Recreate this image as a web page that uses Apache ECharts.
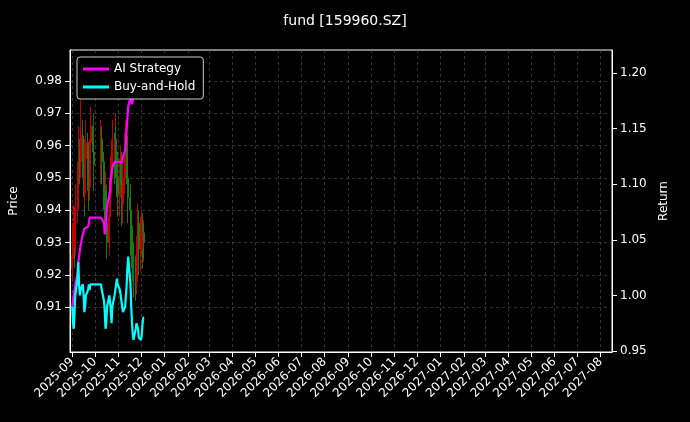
<!DOCTYPE html>
<html lang="en">
<head>
    <meta charset="UTF-8">
    <title>fund [159960.SZ]</title>
    <style>
        html, body { margin: 0; padding: 0; background: #000; }
        #chart { width: 690px; height: 422px; }
    </style>
</head>
<body>
    <div id="chart"></div>
    <script src="https://cdn.jsdelivr.net/npm/echarts@6/dist/echarts.min.js"></script>
    <script>
        // trading days
        let dates = [
            '2025-09-01','2025-09-02','2025-09-03','2025-09-04','2025-09-05',
            '2025-09-08','2025-09-09','2025-09-10','2025-09-11','2025-09-12',
            '2025-09-15','2025-09-16','2025-09-17','2025-09-18','2025-09-19',
            '2025-09-22','2025-09-23','2025-09-24','2025-09-25','2025-09-26',
            '2025-09-29','2025-09-30',
            '2025-10-09','2025-10-10',
            '2025-10-13','2025-10-14','2025-10-15','2025-10-16','2025-10-17',
            '2025-10-20','2025-10-21','2025-10-22','2025-10-23','2025-10-24',
            '2025-10-27','2025-10-28','2025-10-29','2025-10-30','2025-10-31',
            '2025-11-03','2025-11-04','2025-11-05','2025-11-06','2025-11-07',
            '2025-11-10','2025-11-11','2025-11-12','2025-11-13','2025-11-14',
            '2025-11-17','2025-11-18','2025-11-19','2025-11-20','2025-11-21',
            '2025-11-24','2025-11-25','2025-11-26','2025-11-27','2025-11-28',
            '2025-12-01','2025-12-02','2025-12-03','2025-12-04','2025-12-05'
        ];

        // [open, close, low, high]
        let candles = [
            [0.922,0.926,0.918,0.935],[0.926,0.931,0.920,0.936],[0.931,0.935,0.925,0.942],[0.935,0.928,0.922,0.938],[0.928,0.941,0.926,0.948],
            [0.941,0.946,0.936,0.955],[0.946,0.951,0.940,0.958],[0.951,0.959,0.945,0.966],[0.959,0.955,0.948,0.962],[0.955,0.963,0.950,0.975],
            [0.963,0.958,0.950,0.968],[0.958,0.950,0.944,0.962],[0.950,0.945,0.938,0.955],[0.945,0.956,0.942,0.962],[0.956,0.961,0.950,0.968],
            [0.961,0.952,0.946,0.964],[0.952,0.947,0.940,0.956],[0.947,0.955,0.943,0.962],[0.955,0.961,0.950,0.966],[0.961,0.966,0.954,0.972],
            [0.966,0.958,0.952,0.970],[0.958,0.954,0.946,0.963],
            [0.954,0.962,0.948,0.968],[0.962,0.955,0.948,0.966],
            [0.955,0.948,0.940,0.958],[0.948,0.940,0.934,0.952],[0.940,0.946,0.935,0.952],[0.946,0.936,0.930,0.948],[0.936,0.930,0.925,0.940],
            [0.930,0.938,0.926,0.944],[0.938,0.945,0.933,0.950],[0.945,0.951,0.940,0.957],[0.951,0.956,0.946,0.962],[0.956,0.960,0.950,0.968],
            [0.960,0.955,0.948,0.964],[0.955,0.962,0.950,0.970],[0.962,0.958,0.950,0.966],[0.958,0.950,0.944,0.962],[0.950,0.945,0.938,0.954],
            [0.945,0.950,0.938,0.956],[0.950,0.955,0.944,0.960],[0.955,0.948,0.940,0.958],[0.948,0.942,0.935,0.952],[0.942,0.950,0.936,0.956],
            [0.950,0.958,0.945,0.964],[0.958,0.963,0.950,0.968],[0.963,0.955,0.948,0.966],[0.955,0.950,0.942,0.958],[0.950,0.944,0.936,0.954],
            [0.944,0.940,0.932,0.948],[0.940,0.935,0.926,0.944],[0.935,0.930,0.922,0.940],[0.930,0.925,0.918,0.935],[0.925,0.920,0.913,0.930],
            [0.920,0.918,0.912,0.926],[0.918,0.926,0.914,0.932],[0.926,0.931,0.920,0.938],[0.931,0.936,0.924,0.942],[0.936,0.928,0.920,0.940],
            [0.928,0.933,0.921,0.938],[0.933,0.936,0.926,0.940],[0.936,0.928,0.922,0.939],[0.928,0.933,0.924,0.937],[0.933,0.930,0.925,0.936]
        ];

        let aiStrategy = [
            0.990,0.995,1.000,1.005,1.010, 1.020,1.030,1.035,1.040,1.045,
            1.055,1.055,1.060,1.060,1.060, 1.062,1.065,1.070,1.070,1.070,
            1.070,1.070,
            1.070,1.070, 1.065,1.055,1.060,1.070,1.080,
            1.090,1.095,1.105,1.110,1.115, 1.120,1.120,1.120,1.120,1.120,
            1.120,1.120,1.120,1.120,1.125, 1.130,1.140,1.150,1.160,1.170,
            1.178,1.175,1.172,1.175,1.180, 1.185,1.190,1.190,1.190,1.190,
            1.195,1.200,1.205,1.210,1.210
        ];

        let buyHold = [
            0.990,0.975,0.970,0.985,1.000, 1.015,1.030,1.010,1.000,1.005,
            1.010,1.000,0.985,0.990,1.000, 1.005,1.010,1.005,1.010,1.010,
            1.010,1.010,
            1.010,1.005, 0.995,0.985,0.970,0.975,0.990,
            1.000,0.995,0.985,0.975,0.990, 1.000,1.005,1.010,1.015,1.010,
            1.005,1.000,0.995,0.990,0.985, 0.990,1.000,1.010,1.025,1.035,
            1.010,0.990,0.975,0.965,0.960, 0.970,0.975,0.975,0.970,0.962,
            0.960,0.965,0.975,0.980,0.980
        ];

        let monthTicks = [
            '2025-09','2025-10','2025-11','2025-12','2026-01','2026-02','2026-03','2026-04',
            '2026-05','2026-06','2026-07','2026-08','2026-09','2026-10','2026-11','2026-12',
            '2027-01','2027-02','2027-03','2027-04','2027-05','2027-06','2027-07','2027-08'
        ];
        let priceTicks = [0.91, 0.92, 0.93, 0.94, 0.95, 0.96, 0.97, 0.98];
        let returnTicks = [0.95, 1.00, 1.05, 1.10, 1.15, 1.20];

        let ts = d => Date.UTC(+d.slice(0, 4), +d.slice(5, 7) - 1, d.length > 7 ? +d.slice(8, 10) : 1);
        let monthTimes = monthTicks.map(ts);
        let monthLabel = {};
        monthTicks.forEach((m, i) => { monthLabel[monthTimes[i]] = m; });

        let chart = echarts.init(document.getElementById('chart'));
        let gridLine = { show: true, lineStyle: { color: '#555', type: [3, 3], width: 0.6 } };
        let font = 'DejaVu Sans';

        chart.setOption({
            backgroundColor: '#000',
            animation: false,
            textStyle: { fontFamily: font },
            title: {
                text: 'fund [159960.SZ]', left: 'center', top: 9,
                textStyle: { color: '#fff', fontSize: 14, fontWeight: 'normal', fontFamily: font }
            },
            legend: {
                left: 77, top: 57, orient: 'vertical', itemGap: 6,
                itemWidth: 26, itemHeight: 3,
                backgroundColor: '#000', borderColor: '#ccc', borderWidth: 1, borderRadius: 3,
                padding: [6, 8, 6, 6],
                textStyle: { color: '#fff', fontSize: 12, fontFamily: font },
                data: [
                    { name: 'AI Strategy', icon: 'rect' },
                    { name: 'Buy-and-Hold', icon: 'rect' }
                ]
            },
            grid: { left: 70, right: 78, top: 50, bottom: 70, show: true, borderColor: '#fff', borderWidth: 1 },
            xAxis: {
                type: 'value',
                min: ts('2025-08-29'), max: ts('2027-08-16'),
                axisLine: { lineStyle: { color: '#fff' } },
                axisTick: { show: true, customValues: monthTimes, lineStyle: { color: '#fff' } },
                axisLabel: {
                    customValues: monthTimes, rotate: 45, color: '#fff', fontSize: 12, fontFamily: font,
                    formatter: v => monthLabel[v] || ''
                },
                splitLine: gridLine
            },
            yAxis: [{
                type: 'value', name: 'Price', nameLocation: 'middle', nameGap: 50,
                nameTextStyle: { color: '#fff', fontSize: 12 },
                min: 0.8961, max: 0.9896,
                axisLine: { show: true, lineStyle: { color: '#fff' } },
                axisTick: { show: true, customValues: priceTicks, lineStyle: { color: '#fff' } },
                axisLabel: { customValues: priceTicks, color: '#fff', fontSize: 12, formatter: v => v.toFixed(2) },
                splitLine: gridLine
            }, {
                type: 'value', name: 'Return', nameLocation: 'middle', nameGap: 45,
                nameTextStyle: { color: '#fff', fontSize: 12 },
                min: 0.9491, max: 1.2207,
                axisLine: { show: true, lineStyle: { color: '#fff' } },
                axisTick: { show: true, customValues: returnTicks, lineStyle: { color: '#fff' } },
                axisLabel: { customValues: returnTicks, color: '#fff', fontSize: 12, formatter: v => v.toFixed(2) },
                splitLine: { show: false }
            }],
            series: [{
                type: 'candlestick', name: 'price', yAxisIndex: 0,
                barWidth: 1.5,
                data: dates.map((d, i) => [ts(d)].concat(candles[i])),
                itemStyle: { color: '#e00000', color0: '#1f8a1f', borderColor: '#c00000', borderColor0: '#1a7a1a', borderWidth: 1 }
            }, {
                type: 'line', name: 'AI Strategy', yAxisIndex: 1, showSymbol: false,
                color: '#ff00ff', lineStyle: { width: 2.2 },
                data: dates.map((d, i) => [ts(d), aiStrategy[i]])
            }, {
                type: 'line', name: 'Buy-and-Hold', yAxisIndex: 1, showSymbol: false,
                color: '#00ffff', lineStyle: { width: 2.2 },
                data: dates.map((d, i) => [ts(d), buyHold[i]])
            }]
        });
    </script>
</body>
</html>
